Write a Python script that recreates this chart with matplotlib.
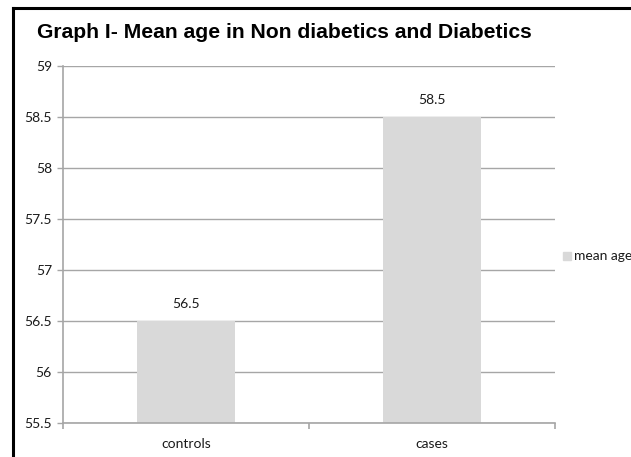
import matplotlib.pyplot as plt
from matplotlib.patches import Rectangle
from matplotlib.lines import Line2D

# data
groups = ['controls', 'cases']
mean_age = [56.5, 58.5]
y_ticks = [55.5, 56, 56.5, 57, 57.5, 58, 58.5, 59]
series_name = 'mean age'

bar_color = '#d9d9d9'
grid_color = '#a6a6a6'
text_color = '#1a1a1a'
body_font = ['Lato', 'DejaVu Sans']
fs = 10

fig = plt.figure(figsize=(6.31, 4.57), dpi=100)
ax = fig.add_axes([63 / 631, 1 - 423 / 457, 492 / 631, 357 / 457])

x = list(range(len(groups)))
bars = ax.bar(x, mean_age, width=0.4, color=bar_color, zorder=2)

ax.set_xlim(-0.5, 1.5)
ax.set_ylim(55.5, 59)
ax.set_yticks(y_ticks)
ax.set_yticklabels([f'{v:g}' for v in y_ticks], fontsize=fs, family=body_font, color=text_color)
ax.yaxis.grid(True, color=grid_color, linewidth=1.0, zorder=0)

# category labels in the middle, tick marks at the boundaries
ax.set_xticks(x)
ax.set_xticklabels(groups, fontsize=fs, family=body_font, color=text_color)
ax.set_xticks([-0.5, 0.5, 1.5], minor=True)
ax.tick_params(axis='x', which='major', length=0, pad=11)
ax.tick_params(axis='x', which='minor', length=4, color=grid_color, width=1.2)
ax.tick_params(axis='y', length=4, color=grid_color, width=1.0, pad=4)

for s in ['top', 'right']:
    ax.spines[s].set_visible(False)
for s in ['left', 'bottom']:
    ax.spines[s].set_color(grid_color)
    ax.spines[s].set_linewidth(1.2)

# value labels above bars
for b, v in zip(bars, mean_age):
    ax.annotate(f'{v:g}', (b.get_x() + b.get_width() / 2, v), xytext=(0, 8),
                textcoords='offset points', ha='center', va='bottom',
                fontsize=fs, family=body_font, color=text_color)

# title
fig.text(37 / 631, 1 - 33 / 457, 'Graph I- Mean age in Non diabetics and Diabetics',
         fontsize=15.2, fontweight='bold', family='Liberation Sans',
         ha='left', va='center', color='black')

# legend key
fig.patches.append(Rectangle((563 / 631, 1 - 260 / 457), 8 / 631, 8 / 457,
                             transform=fig.transFigure, color=bar_color))
fig.text(574 / 631, 1 - 256 / 457, series_name, fontsize=fs, family=body_font,
         ha='left', va='center', color=text_color)

# outer frame
fig.add_artist(Line2D([13 / 631, 13 / 631], [0, 1 - 8 / 457], transform=fig.transFigure,
                      color='black', linewidth=2.2))
fig.add_artist(Line2D([13 / 631, 1], [1 - 8 / 457, 1 - 8 / 457], transform=fig.transFigure,
                      color='black', linewidth=2.2))

fig.savefig('out.png', dpi=100)
